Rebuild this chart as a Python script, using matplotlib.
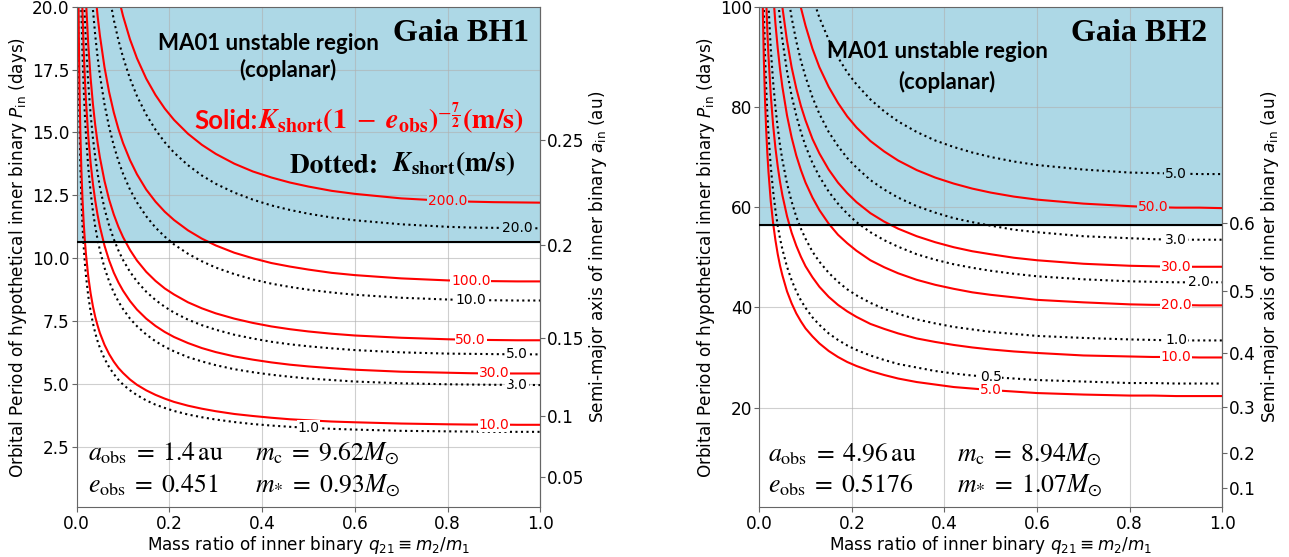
import numpy as np
import matplotlib
matplotlib.use("Agg")
import matplotlib.pyplot as plt

plt.rcParams["font.size"] = 12.2
plt.rcParams["xtick.major.pad"] = 2
plt.rcParams["ytick.major.pad"] = 1.5

# mass ratio grid shared by all curves (each curve uses the tail of it)
Q_GRID = [0.003, 0.004, 0.005, 0.006, 0.008, 0.01, 0.0125, 0.015, 0.0175, 0.02, 0.025,
          0.03, 0.035, 0.04, 0.045, 0.05, 0.06, 0.07, 0.08, 0.09, 0.1, 0.115, 0.13, 0.15,
          0.17, 0.19, 0.21, 0.24, 0.27, 0.3, 0.34, 0.38, 0.42, 0.46, 0.5, 0.55, 0.6, 0.7,
          0.8, 0.85, 0.9, 0.95, 1.0]

# Gaia BH1: P_in (days) along each K curve
BH1_DOTTED_LEVELS = [1.0, 3.0, 5.0, 10.0, 20.0]
BH1_DOTTED_P = [
    [20.69, 18.30, 16.65, 15.41, 13.65, 12.42, 11.31, 10.48, 9.84, 9.31, 8.49, 7.89, 7.42,
     7.03, 6.71, 6.44, 6.01, 5.67, 5.40, 5.17, 4.98, 4.75, 4.56, 4.35, 4.18, 4.05, 3.93,
     3.79, 3.68, 3.59, 3.49, 3.41, 3.35, 3.30, 3.26, 3.22, 3.19, 3.14, 3.12, 3.11, 3.10,
     3.10, 3.10],
    [21.85, 19.89, 18.12, 16.79, 15.75, 14.90, 13.60, 12.63, 11.87, 11.26, 10.75, 10.32,
     9.62, 9.08, 8.64, 8.28, 7.98, 7.60, 7.30, 6.97, 6.70, 6.48, 6.30, 6.07, 5.90, 5.75,
     5.59, 5.47, 5.37, 5.29, 5.22, 5.16, 5.10, 5.03, 4.99, 4.98, 4.97, 4.97, 4.96],
    [20.90, 19.60, 18.55, 16.93, 15.72, 14.78, 14.02, 13.38, 12.84, 11.97, 11.30, 10.76,
     10.31, 9.93, 9.46, 9.08, 8.67, 8.34, 8.07, 7.84, 7.56, 7.34, 7.16, 6.96, 6.81, 6.68,
     6.58, 6.50, 6.42, 6.35, 6.26, 6.21, 6.20, 6.19, 6.18, 6.18],
    [21.16, 19.89, 18.86, 18.01, 17.28, 16.12, 15.21, 14.48, 13.87, 13.36, 12.73, 12.22,
     11.67, 11.22, 10.86, 10.55, 10.18, 9.88, 9.63, 9.37, 9.16, 8.99, 8.86, 8.75, 8.64,
     8.55, 8.43, 8.36, 8.34, 8.33, 8.32, 8.32],
    [20.47, 19.48, 18.67, 17.99, 17.14, 16.45, 15.71, 15.11, 14.61, 14.20, 13.70, 13.29,
     12.96, 12.61, 12.33, 12.10, 11.92, 11.77, 11.62, 11.51, 11.35, 11.25, 11.22, 11.21,
     11.20, 11.19],
]
BH1_SOLID_LEVELS = [10.0, 30.0, 50.0, 100.0, 200.0]
BH1_SOLID_P = [
    [22.57, 19.97, 18.17, 16.82, 14.89, 13.56, 12.35, 11.44, 10.73, 10.16, 9.27, 8.61, 8.09,
     7.67, 7.33, 7.03, 6.56, 6.19, 5.89, 5.64, 5.44, 5.18, 4.97, 4.75, 4.57, 4.42, 4.29,
     4.14, 4.02, 3.92, 3.81, 3.73, 3.66, 3.60, 3.56, 3.51, 3.48, 3.43, 3.40, 3.39, 3.39,
     3.38, 3.38],
    [21.71, 19.77, 18.32, 17.19, 16.26, 14.84, 13.79, 12.96, 12.29, 11.73, 11.26, 10.50,
     9.91, 9.43, 9.04, 8.71, 8.30, 7.96, 7.60, 7.31, 7.07, 6.87, 6.63, 6.43, 6.27, 6.10,
     5.97, 5.86, 5.77, 5.70, 5.63, 5.57, 5.49, 5.45, 5.43, 5.42, 5.42, 5.42],
    [20.25, 18.48, 17.16, 16.13, 15.29, 14.60, 14.01, 13.07, 12.33, 11.74, 11.25, 10.84,
     10.33, 9.91, 9.46, 9.10, 8.80, 8.56, 8.25, 8.01, 7.81, 7.60, 7.43, 7.29, 7.18, 7.09,
     7.00, 6.93, 6.84, 6.78, 6.76, 6.75, 6.74, 6.74],
    [20.59, 19.65, 18.86, 17.59, 16.60, 15.80, 15.14, 14.58, 13.90, 13.34, 12.73, 12.25,
     11.85, 11.52, 11.11, 10.78, 10.51, 10.22, 10.00, 9.81, 9.67, 9.55, 9.42, 9.33, 9.20,
     9.12, 9.10, 9.09, 9.08, 9.08],
    [20.38, 19.63, 18.70, 17.95, 17.14, 16.49, 15.95, 15.50, 14.95, 14.51, 14.15, 13.76,
     13.45, 13.21, 13.01, 12.85, 12.68, 12.56, 12.38, 12.28, 12.25, 12.23, 12.22, 12.21],
]
BH1_P_CRIT = 10.64
BH1_A_TICKS = [0.05, 0.1, 0.15, 0.2, 0.25]

# Gaia BH2
BH2_DOTTED_LEVELS = [0.5, 1.0, 2.0, 3.0, 5.0]
BH2_DOTTED_P = [
    [109.2, 99.4, 90.6, 83.9, 78.7, 74.5, 68.0, 63.2, 59.4, 56.3, 53.7, 51.6, 48.1, 45.4,
     43.2, 41.4, 39.9, 38.0, 36.5, 34.8, 33.5, 32.4, 31.5, 30.4, 29.5, 28.7, 28.0, 27.3,
     26.8, 26.4, 26.1, 25.8, 25.5, 25.2, 24.9, 24.9, 24.8, 24.8, 24.8],
    [100.3, 91.5, 85.0, 79.9, 75.8, 72.3, 69.4, 64.7, 61.1, 58.1, 55.7, 53.7, 51.1, 49.1,
     46.9, 45.1, 43.6, 42.4, 40.9, 39.7, 38.7, 37.6, 36.8, 36.1, 35.6, 35.1, 34.7, 34.3,
     33.9, 33.6, 33.5, 33.4, 33.4, 33.4],
    [102.0, 97.3, 93.4, 87.1, 82.2, 78.3, 75.0, 72.2, 68.8, 66.1, 63.1, 60.7, 58.7, 57.0,
     55.0, 53.4, 52.1, 50.6, 49.5, 48.6, 47.9, 47.3, 46.7, 46.2, 45.6, 45.2, 45.1, 45.0,
     45.0, 45.0],
    [103.6, 97.8, 93.1, 89.2, 86.0, 81.9, 78.6, 75.0, 72.2, 69.8, 67.9, 65.4, 63.5, 61.9,
     60.2, 58.9, 57.8, 57.0, 56.3, 55.5, 55.0, 54.2, 53.8, 53.6, 53.5, 53.5, 53.5],
    [101.9, 97.8, 93.4, 89.9, 86.9, 84.5, 81.5, 79.1, 77.1, 75.0, 73.3, 72.0, 70.9, 70.0,
     69.1, 68.4, 67.5, 66.9, 66.8, 66.7, 66.6, 66.6],
]
BH2_SOLID_LEVELS = [5.0, 10.0, 20.0, 30.0, 50.0]
BH2_SOLID_P = [
    [110.9, 98.2, 89.4, 81.4, 75.4, 70.8, 67.0, 61.1, 56.8, 53.4, 50.6, 48.3, 46.4, 43.2,
     40.8, 38.8, 37.2, 35.8, 34.2, 32.8, 31.3, 30.1, 29.1, 28.3, 27.3, 26.5, 25.8, 25.1,
     24.6, 24.1, 23.8, 23.5, 23.2, 22.9, 22.6, 22.4, 22.4, 22.3, 22.3, 22.3],
    [101.5, 95.2, 90.1, 82.3, 76.4, 71.8, 68.1, 65.0, 62.4, 58.2, 54.9, 52.3, 50.1, 48.2,
     46.0, 44.1, 42.1, 40.5, 39.2, 38.1, 36.7, 35.7, 34.8, 33.8, 33.1, 32.5, 32.0, 31.6,
     31.2, 30.9, 30.4, 30.2, 30.1, 30.1, 30.0, 30.0],
    [102.8, 96.6, 91.7, 87.5, 84.0, 78.3, 73.9, 70.3, 67.4, 64.9, 61.9, 59.4, 56.7, 54.5,
     52.8, 51.3, 49.4, 48.0, 46.8, 45.5, 44.5, 43.7, 43.0, 42.5, 42.0, 41.5, 41.0, 40.6,
     40.5, 40.5, 40.4, 40.4],
    [104.1, 99.9, 93.2, 87.9, 83.7, 80.2, 77.3, 73.6, 70.7, 67.5, 64.9, 62.8, 61.0, 58.8,
     57.1, 55.7, 54.2, 53.0, 52.0, 51.2, 50.6, 49.9, 49.4, 48.7, 48.3, 48.2, 48.1, 48.1,
     48.1],
    [104.2, 99.8, 96.2, 91.6, 87.9, 84.0, 80.8, 78.1, 75.9, 73.2, 71.1, 69.3, 67.4, 65.9,
     64.7, 63.7, 62.9, 62.1, 61.5, 60.7, 60.2, 60.0, 59.9, 59.9, 59.8],
]
BH2_P_CRIT = 56.5
BH2_A_TICKS = [0.1, 0.2, 0.3, 0.4, 0.5, 0.6]

EDGE = "#666666"


def draw_panel(ax, dotted, solid, p_crit, p_max, m_c, a_ticks):
    ax.axhspan(p_crit, p_max, color="lightblue", zorder=0)
    ax.axhline(p_crit, color="black", lw=1.5, zorder=3)
    for levels, curves, label_q, color, ls in dotted + solid:
        for lev, p, lq in zip(levels, curves, label_q):
            q = Q_GRID[-len(p):]
            ax.plot(q, p, ls=ls, color=color, lw=1.5, zorder=2)
            i = q.index(lq)
            bg = "lightblue" if p[i] > p_crit else "white"
            ax.text(lq, p[i], f"{lev:.1f}", color=color, fontsize=10, ha="center",
                    va="center", zorder=4,
                    bbox=dict(boxstyle="square,pad=0.05", fc=bg, ec="none"))
    ax.set_xlim(0, 1)
    ax.set_ylim(0.1, p_max)
    ax.grid(True, color="#b0b0b0", alpha=0.6)
    ax.set_xlabel(r"Mass ratio of inner binary $q_{21} \equiv m_2/m_1$", labelpad=1)
    ax.set_ylabel(r"Orbital Period of hypothetical inner binary $P_{\rm in}$ (days)",
                  labelpad=2)

    def p_to_a(p):
        return np.cbrt(m_c * (np.asarray(p) / 365.25) ** 2)

    def a_to_p(a):
        return 365.25 * np.sqrt(np.abs(np.asarray(a)) ** 3 / m_c)

    sec = ax.secondary_yaxis("right", functions=(p_to_a, a_to_p))
    sec.set_yticks(a_ticks, labels=[f"{t:g}" for t in a_ticks])
    sec.set_ylabel(r"Semi-major axis of inner binary $a_{\rm in}$ (au)", labelpad=2)
    for a in (ax, sec):
        for sp in a.spines.values():
            sp.set_color(EDGE)
        a.tick_params(color=EDGE)


fig = plt.figure(figsize=(12.89, 5.57), dpi=100)
ax1 = fig.add_axes([0.0595, 0.0892, 0.3596, 0.8988])
ax2 = fig.add_axes([0.589, 0.0892, 0.3593, 0.8988])

draw_panel(ax1,
           [(BH1_DOTTED_LEVELS, BH1_DOTTED_P, [0.5, 0.95, 0.95, 0.85, 0.95], "black", ":")],
           [(BH1_SOLID_LEVELS, BH1_SOLID_P, [0.9, 0.9, 0.85, 0.85, 0.8], "red", "-")],
           BH1_P_CRIT, 20, 9.62, BH1_A_TICKS)
draw_panel(ax2,
           [(BH2_DOTTED_LEVELS, BH2_DOTTED_P, [0.5, 0.9, 0.95, 0.9, 0.9], "black", ":")],
           [(BH2_SOLID_LEVELS, BH2_SOLID_P, [0.5, 0.9, 0.9, 0.9, 0.85], "red", "-")],
           BH2_P_CRIT, 100, 8.94, BH2_A_TICKS)

box_font = dict(family="Lato", fontweight="bold", fontsize=16, ha="center", va="center")
title_font = dict(family="Liberation Serif", fontweight="bold", fontsize=23, ha="center",
                  va="center")
math_font = dict(math_fontfamily="stix", fontsize=18.5, ha="left", va="center")

ax1.text(0.413, 0.927, "MA01 unstable region", transform=ax1.transAxes, **box_font)
ax1.text(0.456, 0.874, "(coplanar)", transform=ax1.transAxes, **box_font)
ax1.text(0.830, 0.947, "Gaia BH1", transform=ax1.transAxes, **title_font)
solid_eq = ax1.text(0.965, 0.778,
                    r"$\mathbfit{K}_{\mathbf{short}}\mathbf{(1}\;-\;\mathbfit{e}_{\mathbf{obs}}"
                    r"\mathbf{)}^{-\frac{\mathbf{7}}{\mathbf{2}}}\mathbf{(m/s)}$",
                    transform=ax1.transAxes, color="red", math_fontfamily="stix",
                    fontsize=20.3, ha="right", va="center")
ax1.annotate("Solid:", xy=(0, 0.42), xycoords=solid_eq, ha="right", va="center",
             color="red", family="Lato", fontweight="bold", fontsize=18.5)
dotted_eq = ax1.text(0.946, 0.686, r"$\mathbfit{K}_{\mathbf{short}}\mathbf{(m/s)}$",
                     transform=ax1.transAxes, color="black", math_fontfamily="stix",
                     fontsize=19.7, ha="right", va="center")
ax1.annotate("Dotted:  ", xy=(0, 0.42), xycoords=dotted_eq, ha="right", va="center",
             color="black", family="STIXGeneral", fontweight="bold", fontsize=19.7)
ax1.text(0.024, 0.108, r"$a_{\rm obs}\;=\;1.4\,{\rm au}$", transform=ax1.transAxes,
         **math_font)
ax1.text(0.385, 0.108, r"$m_{\rm c}\;=\;9.62M_{\odot}$", transform=ax1.transAxes,
         **math_font)
ax1.text(0.024, 0.044, r"$e_{\rm obs}\;=\;0.451$", transform=ax1.transAxes, **math_font)
ax1.text(0.385, 0.044, r"$m_{*}\;=\;0.93M_{\odot}$", transform=ax1.transAxes, **math_font)

ax2.text(0.384, 0.91, "MA01 unstable region", transform=ax2.transAxes, **box_font)
ax2.text(0.405, 0.85, "(coplanar)", transform=ax2.transAxes, **box_font)
ax2.text(0.820, 0.947, "Gaia BH2", transform=ax2.transAxes, **title_font)
ax2.text(0.018, 0.106, r"$a_{\rm obs}\;=\;4.96\,{\rm au}$", transform=ax2.transAxes,
         **math_font)
ax2.text(0.426, 0.106, r"$m_{\rm c}\;=\;8.94M_{\odot}$", transform=ax2.transAxes,
         **math_font)
ax2.text(0.018, 0.044, r"$e_{\rm obs}\;=\;0.5176$", transform=ax2.transAxes, **math_font)
ax2.text(0.426, 0.044, r"$m_{*}\;=\;1.07M_{\odot}$", transform=ax2.transAxes, **math_font)

fig.savefig("out.png", dpi=100)
